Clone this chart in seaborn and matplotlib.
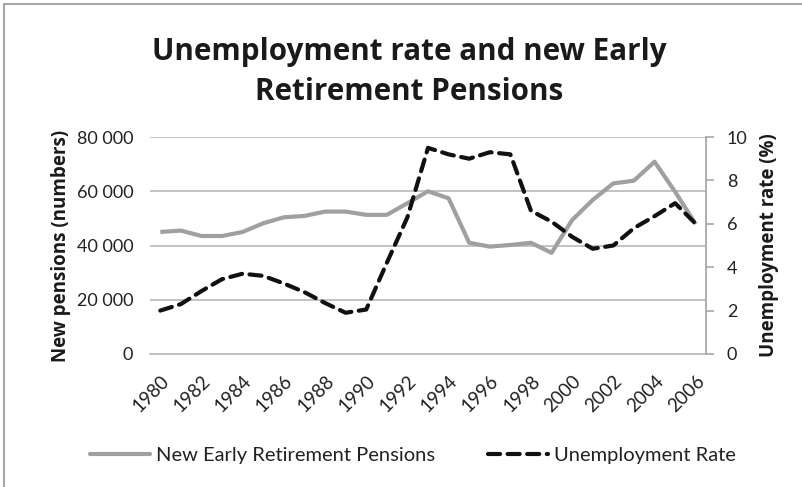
import matplotlib
matplotlib.use("Agg")
import matplotlib.pyplot as plt
import seaborn as sns
import pandas as pd
from matplotlib.patches import Rectangle
from matplotlib.lines import Line2D

years = list(range(1980, 2007))
pensions = [45000, 45500, 43500, 43500, 45000, 48200, 50400, 50900, 52500, 52500,
            51300, 51300, 55600, 60000, 57400, 41000, 39600, 40200, 41000, 37300,
            49400, 56800, 62900, 63900, 70900, 59800, 47900]
unemployment = [2.0, 2.3, 2.9, 3.45, 3.7, 3.6, 3.25, 2.85, 2.35, 1.9,
                2.05, 4.2, 6.3, 9.5, 9.2, 9.0, 9.3, 9.2, 6.6, 6.1,
                5.4, 4.85, 5.0, 5.8, 6.35, 6.95, 6.0]
left_ticks = [0, 20000, 40000, 60000, 80000]
left_labels = ["0", "20 000", "40 000", "60 000", "80 000"]
right_ticks = [0, 2, 4, 6, 8, 10]
xtick_years = list(range(1980, 2007, 2))

df = pd.DataFrame({"year": years, "pensions": pensions, "unemployment": unemployment})

sns.set_style("white")
plt.rcParams['font.family'] = ['Lato', 'DejaVu Sans']
bold_family = ['Open Sans', 'DejaVu Sans']

fig = plt.figure(figsize=(8.03, 4.87), dpi=100)
ax = fig.add_axes([150/803, 1-354/487, (706-150)/803, (354-137)/487])
ax2 = ax.twinx()

gray = "#A0A0A0"
sns.lineplot(data=df, x="year", y="pensions", ax=ax, color=gray, linewidth=3.0,
             solid_capstyle="butt", solid_joinstyle="round")
sns.lineplot(data=df, x="year", y="unemployment", ax=ax2, color="#111111", linewidth=3.0,
             dashes=False)
ln = ax2.get_lines()[0]
ln.set_dashes((2.9, 1.8))
ln.set_dash_capstyle("round")

ax.set_xlim(1979.5, 2006.5)
ax.set_ylim(0, 80000)
ax2.set_ylim(0, 10)
ax.set_yticks(left_ticks)
ax.set_yticklabels(left_labels)
ax2.set_yticks(right_ticks)
ax.set_xticks(xtick_years)
ax.set_xticklabels([str(y) for y in xtick_years], rotation=45, ha="right",
                   rotation_mode="anchor")

ax.grid(axis="y", color="#BDBDBD", linewidth=1.3)
ax.set_axisbelow(True)
for s in ["top", "left", "right"]:
    ax.spines[s].set_visible(False)
ax.spines["bottom"].set_color("#BDBDBD")
ax.spines["bottom"].set_linewidth(1.3)
for s in ["top", "left", "bottom"]:
    ax2.spines[s].set_visible(False)
ax2.spines["right"].set_color("#A8A8A8")
ax2.spines["right"].set_linewidth(1.3)

ax.tick_params(axis="y", length=0, labelsize=13, labelcolor="#222222", pad=12)
ax.tick_params(axis="x", length=0, labelsize=13.5, labelcolor="#222222", pad=13)
ax2.tick_params(axis="y", length=6, width=1.2, color="#A8A8A8", direction="out",
                labelsize=13, labelcolor="#222222", pad=9)

ax.set_xlabel("")
ax.set_ylabel("New pensions (numbers)", fontsize=13.5, fontweight="bold",
              family=bold_family, labelpad=4, color="#1a1a1a")
ax2.set_ylabel("Unemployment rate (%)", fontsize=13.5, fontweight="bold",
               family=bold_family, labelpad=8, color="#1a1a1a")

fig.text(409/803, 1-52/487, "Unemployment rate and new Early", ha="center", va="center",
         fontsize=21.3, fontweight="bold", family=bold_family, color="#1a1a1a")
fig.text(409/803, 1-92/487, "Retirement Pensions", ha="center", va="center",
         fontsize=21.3, fontweight="bold", family=bold_family, color="#1a1a1a")

handles = [Line2D([], [], color=gray, linewidth=3.0),
           Line2D([], [], color="#111111", linewidth=3.0, dashes=(2.9, 1.8),
                  dash_capstyle="round")]
fig.legend(handles, ["New Early Retirement Pensions", "Unemployment Rate"],
           loc="center", bbox_to_anchor=(413/803, 1-455/487), ncol=2, frameon=False,
           fontsize=14.5, handlelength=3.0, handletextpad=0.3, columnspacing=2.6,
           labelcolor="#222222")

fig.add_artist(Rectangle((4/803, -0.01), 1.2, 1-4/487+0.01, transform=fig.transFigure,
                         fill=False, edgecolor="#A8A8A8", linewidth=1.5))

fig.savefig("out.png", dpi=100)
